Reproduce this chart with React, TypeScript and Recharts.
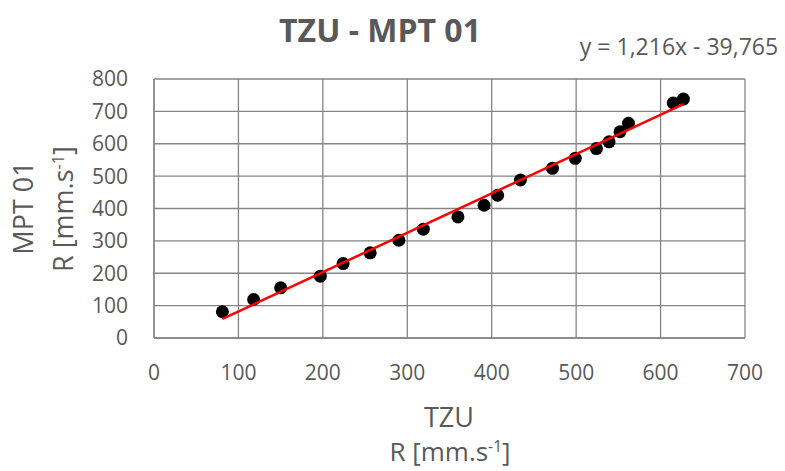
import { ScatterChart, Scatter, XAxis, YAxis, CartesianGrid } from "recharts";

// measured pairs, TZU vs MPT 01 (R in mm/s)
const tzu = [81, 118, 150, 197, 224, 256, 290, 319, 360, 391, 407, 434, 472, 499, 524, 539, 552, 562, 615, 627];
const mpt01 = [81, 119, 155, 191, 230, 263, 302, 336, 374, 410, 441, 488, 524, 555, 585, 606, 637, 663, 726, 738];

// linear fit shown in the corner
const slope = 1.216;
const intercept = -39.765;

const xTicks = [0, 100, 200, 300, 400, 500, 600, 700];
const yTicks = [0, 100, 200, 300, 400, 500, 600, 700, 800];

const points = tzu.map((x, i) => ({ x, y: mpt01[i] }));
const xMin = Math.min(...tzu);
const xMax = Math.max(...tzu);
const trend = [xMin, xMax].map((x) => ({ x, y: slope * x + intercept }));

const grey = "#595959";
const font = "'Open Sans', sans-serif";
const gridColor = "#858585";

const Dot = (props: any) => <circle cx={props.cx} cy={props.cy} r={6.5} fill="#000" />;
const NoDot = () => <g />;

const text = (left: number, top: number, size: number, extra: any = {}) => ({
  position: "absolute" as const,
  left,
  top,
  transform: "translate(-50%, -50%)",
  fontFamily: font,
  fontSize: size,
  color: grey,
  whiteSpace: "nowrap" as const,
  lineHeight: 1.2,
  ...extra,
});

const sup = { position: "relative" as const, top: "-0.55em", fontSize: "0.6em" };

const Unit = () => (
  <>
    R [mm.s<span style={sup}>-1</span>]
  </>
);

const App = () => {
  return (
    <div style={{ position: "absolute", left: 0, top: 0, width: 785, height: 471, background: "#fff" }}>
      <ScatterChart
        width={785}
        height={471}
        margin={{ top: 79, right: 40, bottom: 73, left: 94 }}
        style={{ fontFamily: font }}
      >
        <CartesianGrid stroke={gridColor} strokeWidth={1.3} fill="none" />
        <XAxis
          type="number"
          dataKey="x"
          domain={[0, 700]}
          ticks={xTicks}
          height={60}
          tickSize={0}
          tickMargin={27}
          axisLine={{ stroke: gridColor, strokeWidth: 1.3 }}
          tickLine={false}
          tick={{ fill: grey, fontSize: 21, fontFamily: font }}
        />
        <YAxis
          type="number"
          dataKey="y"
          domain={[0, 800]}
          ticks={yTicks}
          width={60}
          tickSize={0}
          tickMargin={26}
          axisLine={{ stroke: gridColor, strokeWidth: 1.3 }}
          tickLine={false}
          tick={{ fill: grey, fontSize: 21, fontFamily: font }}
        />
        <Scatter data={points} shape={Dot} isAnimationActive={false} />
        <Scatter
          data={trend}
          line={{ stroke: "#ff0000", strokeWidth: 2.5 }}
          shape={NoDot}
          isAnimationActive={false}
        />
      </ScatterChart>

      <div style={text(380, 30, 32, { fontWeight: 700 })}>TZU - MPT 01</div>
      <div style={text(679, 47, 23)}>y = 1,216x - 39,765</div>

      <div style={text(449, 417, 27)}>TZU</div>
      <div style={text(450, 452, 26)}>
        <Unit />
      </div>

      <div style={text(23, 208, 27, { transform: "translate(-50%, -50%) rotate(-90deg)" })}>MPT 01</div>
      <div style={text(63, 209, 27, { transform: "translate(-50%, -50%) rotate(-90deg)" })}>
        <Unit />
      </div>
    </div>
  );
};

export default App;
